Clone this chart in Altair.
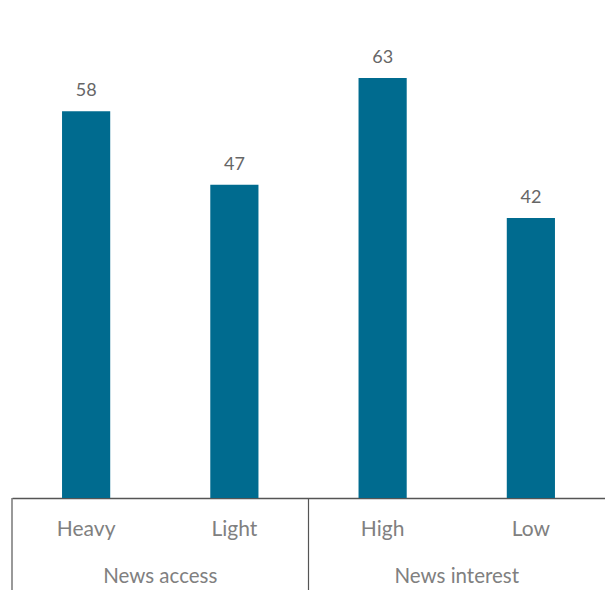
import altair as alt
import pandas as pd

categories = ["Heavy", "Light", "High", "Low"]
groups = ["News access", "News access", "News interest", "News interest"]
values = [58, 47, 63, 42]
group_names = ["News access", "News interest"]

df = pd.DataFrame({"category": categories, "group": groups, "value": values})
gdf = pd.DataFrame({"group": group_names})

W, H = 593, 480
FONT = "Lato"

x = alt.X(
    "category:N",
    sort=categories,
    scale=alt.Scale(paddingInner=0.675, paddingOuter=0.3375),
    axis=alt.Axis(
        title=None, domain=True, domainColor="#555555", domainWidth=1.5,
        ticks=False, labelFont=FONT, labelFontSize=21, labelColor="#808080",
        labelPadding=20, labelAngle=0, grid=False,
    ),
)
y = alt.Y("value:Q", scale=alt.Scale(domain=[0, 72]), axis=None)

bars = alt.Chart(df).mark_bar(color="#006b8f").encode(x=x, y=y)
vals = alt.Chart(df).mark_text(
    dy=-15, baseline="alphabetic", font=FONT, fontSize=18, color="#666666"
).encode(x=x, y=y, text="value:Q")

gx = alt.X("group:N", sort=group_names,
           scale=alt.Scale(paddingInner=0, paddingOuter=0), axis=None)
glabels = alt.Chart(gdf).mark_text(
    baseline="middle", font=FONT, fontSize=20.5, color="#808080"
).encode(x=gx, y=alt.value(H + 79), text="group:N")
gx0 = alt.X("group:N", sort=group_names, bandPosition=0,
            scale=alt.Scale(paddingInner=0, paddingOuter=0), axis=None)
dividers = alt.Chart(gdf).mark_rule(color="#555555", strokeWidth=1.2).encode(
    x=gx0, y=alt.value(H), y2=alt.value(H + 92)
)

chart = (
    alt.layer(alt.layer(bars, vals), alt.layer(glabels, dividers))
    .resolve_scale(x="independent")
    .properties(
        width=W, height=H,
        autosize=alt.AutoSizeParams(type="none"),
        padding={"left": 12, "top": 18, "right": 0, "bottom": 92},
    )
    .configure_view(stroke=None)
)

chart.save("out.html", embed_options={"renderer": "svg", "actions": False})
